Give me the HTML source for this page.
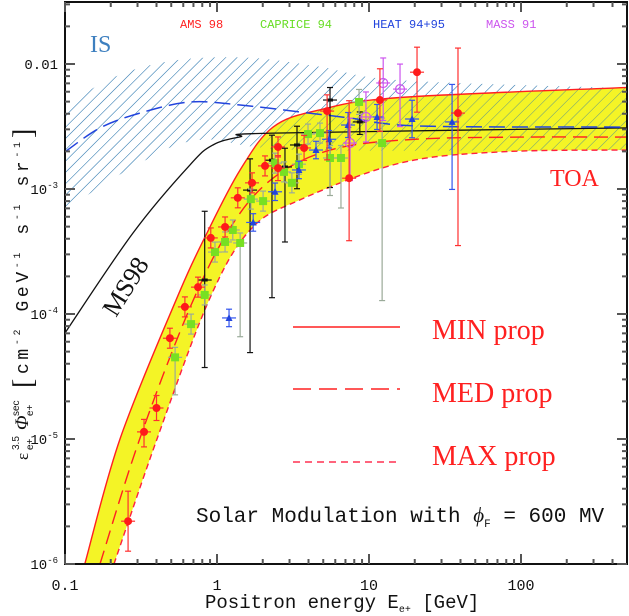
<!DOCTYPE html>
<html><head><meta charset="utf-8"><style>
body{margin:0;background:#fff;}
svg{display:block;}
</style></head><body>
<svg id="chart" width="629" height="616" viewBox="0 0 629 616" xmlns="http://www.w3.org/2000/svg" font-family="Liberation Serif, serif">
<defs>
<clipPath id="plotclip"><rect x="65" y="2" width="563" height="562"/></clipPath>
<pattern id="hatch" patternUnits="userSpaceOnUse" width="8" height="8" patternTransform="rotate(45)">
<line x1="0" y1="0" x2="0" y2="8" stroke="#3d82b5" stroke-width="1"/>
</pattern>
</defs>
<g id="plot" clip-path="url(#plotclip)"></g>
<g id="axes"></g>
<g id="labels">
<text x="180" y="28" font-size="12" fill="#ff2020" font-family="Liberation Mono, monospace">AMS 98</text>
<text x="260" y="28" font-size="12" fill="#66dd22" font-family="Liberation Mono, monospace">CAPRICE 94</text>
<text x="373" y="28" font-size="12" fill="#2244dd" font-family="Liberation Mono, monospace">HEAT 94+95</text>
<text x="486" y="28" font-size="12" fill="#cc55ee" font-family="Liberation Mono, monospace">MASS 91</text>
<text x="90" y="52" font-size="24" fill="#3d7fbf">IS</text>
<text x="550" y="186" font-size="24" fill="#ff2020">TOA</text>
<text x="0" y="0" font-size="26" fill="#111" transform="translate(116,318) rotate(-58)">MS98</text>
<line x1="293" y1="327" x2="400" y2="327" stroke="#ff2020" stroke-width="1.6"/>
<line x1="293" y1="389" x2="400" y2="389" stroke="#ff2020" stroke-width="1.6" stroke-dasharray="18,8"/>
<line x1="293" y1="462" x2="398" y2="462" stroke="#ff3050" stroke-width="1.6" stroke-dasharray="7,5"/>
<text x="432" y="339" font-size="28" fill="#ff2020">MIN prop</text>
<text x="432" y="402" font-size="28" fill="#ff2020">MED prop</text>
<text x="432" y="465" font-size="28" fill="#ff2020">MAX prop</text>
<text x="196" y="522" font-size="21" fill="#111" font-family="Liberation Mono, monospace">Solar Modulation with <tspan font-family="Liberation Serif, serif" font-style="italic">ϕ</tspan><tspan font-size="11" baseline-shift="-5">F</tspan> = 600 MV</text>
<text x="205" y="608" font-size="19" fill="#111" font-family="Liberation Mono, monospace">Positron energy E<tspan font-size="10" baseline-shift="-4">e+</tspan>  [GeV]</text>
<g transform="translate(28,460) rotate(-90)" fill="#111">
<text x="0" y="0" font-size="17">ε</text>
<text x="10" y="-9" font-size="10" font-family="Liberation Sans, sans-serif">3.5</text>
<text x="10" y="5" font-size="10" font-family="Liberation Sans, sans-serif">e+</text>
<text x="30" y="0" font-size="19" font-style="italic">Φ</text>
<text x="44" y="-9" font-size="10" font-family="Liberation Sans, sans-serif">sec</text>
<text x="44" y="5" font-size="10" font-family="Liberation Sans, sans-serif">e+</text>
<text x="72" y="4" font-size="28">[</text>
<text x="86" y="0" font-size="18" font-family="Liberation Mono, monospace" textLength="232" lengthAdjust="spacing">cm<tspan font-size="10" baseline-shift="8">-2</tspan> GeV<tspan font-size="10" baseline-shift="8">-1</tspan> s<tspan font-size="10" baseline-shift="8">-1</tspan> sr<tspan font-size="10" baseline-shift="8">-1</tspan></text>
<text x="322" y="4" font-size="28">]</text>
</g>
</g>
</svg>
<script>
// ---- data ----
const xTicks = [0.1, 1, 10, 100];
const xTickLabels = ["0.1", "1", "10", "100"];
const yTicks = [1e-6, 1e-5, 1e-4, 1e-3, 1e-2];
const yTickExp = ["-6", "-5", "-4", "-3", ""];

const bandUpperE = [0.135, 0.23, 0.537, 0.859, 1.42, 2.34, 4.76, 16, 513];
const bandUpperV = [1e-6, 1e-5, 1.29e-4, 4.45e-4, 1.42e-3, 3.13e-3, 4.3e-3, 5.4e-3, 6.5e-3];
const bandLowerE = [0.21, 0.403, 0.886, 1.65, 3.52, 16, 72.8, 513];
const bandLowerV = [1e-6, 1e-5, 1.29e-4, 4.7e-4, 8.2e-4, 1.61e-3, 1.98e-3, 2.05e-3];
const medE = [0.17, 0.31, 0.68, 1.3, 2.5, 6, 20, 100, 513];
const medV = [1e-6, 1e-5, 1.2e-4, 5.5e-4, 1.3e-3, 2.1e-3, 2.5e-3, 2.6e-3, 2.6e-3];

const ms98E = [0.1, 0.28, 0.664, 0.94, 1.42, 2.34, 513];
const ms98V = [7.05e-5, 4.45e-4, 1.56e-3, 2.25e-3, 2.61e-3, 2.8e-3, 3.08e-3];
const isE = [0.1, 0.17, 0.311, 0.664, 1.42, 3.52, 7.5, 21.7, 513];
const isV = [1.98e-3, 3.08e-3, 4.05e-3, 4.97e-3, 4.7e-3, 4.13e-3, 3.7e-3, 3.19e-3, 3.13e-3];
const hatchUpE = [0.1, 0.23, 0.57, 1.65, 4.76, 16, 513];
const hatchUpV = [4.7e-3, 8.2e-3, 1.08e-2, 1.12e-2, 9.5e-3, 7.4e-3, 6.4e-3];
const hatchLoE = [0.1, 0.28, 0.77, 3.52, 513];
const hatchLoV = [6.8e-4, 1.5e-3, 2.47e-3, 2.05e-3, 2.05e-3];

const amsE = [0.26, 0.331, 0.40, 0.49, 0.615, 0.75, 0.91, 1.13, 1.37, 1.70, 2.07, 2.52, 2.52, 3.74, 5.3, 7.4, 11.8, 20.7, 38.5];
const amsV = [2.2e-6, 1.14e-5, 1.77e-5, 6.4e-5, 1.14e-4, 1.64e-4, 4.06e-4, 4.97e-4, 8.5e-4, 1.12e-3, 1.53e-3, 2.17e-3, 1.47e-3, 2.13e-3, 4.2e-3, 1.22e-3, 5.15e-3, 8.6e-3, 4.05e-3];
const amsUp = [0.24, 0.1, 0.1, 0.08, 0.08, 0.08, 0.08, 0.08, 0.08, 0.08, 0.08, 0.08, 0.1, 0.1, 0.13, 0.62, 0.25, 0.2, 0.52];
const amsDn = [0.24, 0.12, 0.1, 0.08, 0.08, 0.08, 0.08, 0.08, 0.08, 0.08, 0.08, 0.08, 0.1, 0.1, 0.39, 0.5, 0.25, 0.32, 1.06];

const capE = [0.53, 0.675, 0.83, 0.97, 1.13, 1.27, 1.42, 1.67, 2.01, 2.41, 2.76, 3.11, 3.46, 3.97, 4.76, 5.54, 6.54, 8.6, 12.2];
const capV = [4.5e-5, 8.3e-5, 1.42e-4, 3.13e-4, 3.77e-4, 4.7e-4, 3.7e-4, 8.3e-4, 8.0e-4, 1.61e-3, 1.37e-3, 1.12e-3, 1.58e-3, 2.75e-3, 2.8e-3, 1.77e-3, 1.77e-3, 4.97e-3, 2.33e-3];
const capUp = [0.08, 0.08, 0.08, 0.08, 0.08, 0.08, 0.08, 0.08, 0.08, 0.08, 0.08, 0.08, 0.08, 0.08, 0.08, 0.1, 0.1, 0.1, 0.2];
const capDn = [0.3, 0.08, 0.08, 0.08, 0.08, 0.08, 0.75, 0.08, 0.08, 0.08, 0.08, 0.08, 0.08, 0.08, 0.08, 0.3, 0.4, 0.1, 1.26];

const heatE = [1.20, 1.73, 2.41, 3.46, 4.48, 5.46, 7.28, 11.3, 19.2, 35.2];
const heatV = [9.3e-5, 5.4e-4, 9.5e-4, 1.42e-3, 2.05e-3, 2.5e-3, 3.25e-3, 3.77e-3, 3.63e-3, 3.44e-3];
const heatUp = [0.07, 0.07, 0.07, 0.07, 0.07, 0.07, 0.1, 0.1, 0.15, 0.3];
const heatDn = [0.07, 0.07, 0.07, 0.07, 0.07, 0.07, 0.1, 0.1, 0.15, 0.54];

const massE = [7.5, 9.55, 12.4, 16.0];
const massV = [2.33e-3, 3.77e-3, 7.05e-3, 6.3e-3];
const massUp = [0.2, 0.2, 0.2, 0.2];
const massDn = [0.3, 0.2, 0.3, 0.3];

const otherE = [0.83, 1.65, 2.30, 2.80, 3.36, 5.54, 8.7];
const otherV = [1.87e-4, 9.8e-4, 1.7e-3, 1.5e-3, 2.25e-3, 5.15e-3, 3.44e-3];
const otherUp = [0.55, 0.25, 0.2, 0.15, 0.15, 0.1, 0.08];
const otherDn = [0.7, 1.3, 1.1, 0.6, 0.35, 0.7, 0.1];

// ---- scales ----
const X0 = 65, DEC_X = 152, Y0 = 564, DEC_Y = 125;
function sx(e){ return X0 + DEC_X * (Math.log10(e) + 1); }
function sy(v){ return Y0 - DEC_Y * (Math.log10(v) + 6); }
const NS = "http://www.w3.org/2000/svg";
const plot = document.getElementById('plot');
const axes = document.getElementById('axes');
function mk(tag, attrs, parent){
  const el = document.createElementNS(NS, tag);
  for (const k in attrs) el.setAttribute(k, attrs[k]);
  parent.appendChild(el);
  return el;
}
function pts(E, V){ return E.map((e,i)=>[sx(e), sy(V[i])]); }
function smooth(p){
  let d = "M" + p[0][0].toFixed(1) + "," + p[0][1].toFixed(1);
  for (let i=0;i<p.length-1;i++){
    const p0=p[Math.max(i-1,0)], p1=p[i], p2=p[i+1], p3=p[Math.min(i+2,p.length-1)];
    const c1=[p1[0]+(p2[0]-p0[0])/6, p1[1]+(p2[1]-p0[1])/6];
    const c2=[p2[0]-(p3[0]-p1[0])/6, p2[1]-(p3[1]-p1[1])/6];
    d += "C"+c1[0].toFixed(1)+","+c1[1].toFixed(1)+" "+c2[0].toFixed(1)+","+c2[1].toFixed(1)+" "+p2[0].toFixed(1)+","+p2[1].toFixed(1);
  }
  return d;
}
function revPath(p){ return smooth(p.slice().reverse()).replace(/^M/, "L"); }

const hu = pts(hatchUpE, hatchUpV), hl = pts(hatchLoE, hatchLoV);
const hatchEl = mk('path', {d: smooth(hu) + revPath(hl) + "Z", fill: "url(#hatch)", stroke: "none"}, plot);



const bu = pts(bandUpperE, bandUpperV), bl = pts(bandLowerE, bandLowerV);
const bandEl = mk('path', {d: smooth(bu) + revPath(bl) + "Z", fill: "#f2f200", "fill-opacity": "0.85", stroke: "none"}, plot);


const hatch2 = mk('path', {d: smooth(hu) + revPath(hl) + "Z", fill: "url(#hatch)", stroke: "none", opacity: "0.7"}, plot);



const minC = mk('path', {d: smooth(bu), fill: "none", stroke: "#ff2020", "stroke-width": "1.4"}, plot);


const medC = mk('path', {d: smooth(pts(medE, medV)), fill: "none", stroke: "#ff2020", "stroke-width": "1.4", "stroke-dasharray": "14,7"}, plot);


const maxC = mk('path', {d: smooth(bl), fill: "none", stroke: "#ff2040", "stroke-width": "1.4", "stroke-dasharray": "6,4"}, plot);


const msC = mk('path', {d: smooth(pts(ms98E, ms98V)), fill: "none", stroke: "#111", "stroke-width": "1.3"}, plot);


const isC = mk('path', {d: smooth(pts(isE, isV)), fill: "none", stroke: "#2244dd", "stroke-width": "1.5", "stroke-dasharray": "16,7"}, plot);



function series(E, V, up, dn, color, barColor, marker, name){
  const g = mk('g', {}, plot);
  
  
  E.forEach((e,i)=>{
    const x = sx(e), y = sy(V[i]);
    const yt = y - up[i]*DEC_Y, yb = y + dn[i]*DEC_Y;
    mk('line', {x1:x, y1:yt, x2:x, y2:yb, stroke:barColor, "stroke-width":1.2}, g);
    mk('line', {x1:x-3, y1:yt, x2:x+3, y2:yt, stroke:barColor, "stroke-width":1.2}, g);
    mk('line', {x1:x-3, y1:yb, x2:x+3, y2:yb, stroke:barColor, "stroke-width":1.2}, g);
    mk('line', {x1:x-7, y1:y, x2:x+7, y2:y, stroke:barColor, "stroke-width":1.2}, g);
    let m;
    if (marker === 'circle') m = mk('circle', {cx:x, cy:y, r:4, fill:color}, g);
    else if (marker === 'square') m = mk('rect', {x:x-4, y:y-4, width:8, height:8, fill:color}, g);
    else if (marker === 'tri') m = mk('path', {d:`M${x},${y-4}L${x+3.5},${y+3}L${x-3.5},${y+3}Z`, fill:color}, g);
    else if (marker === 'open') m = mk('circle', {cx:x, cy:y, r:4.5, fill:"none", stroke:color, "stroke-width":1.2}, g);
    else m = mk('rect', {x:x-3, y:y-1.5, width:6, height:3, fill:color}, g);
    
    
  });
}
series(otherE, otherV, otherUp, otherDn, "#111", "#111", "dash", "other");
series(capE, capV, capUp, capDn, "#77e022", "#9aaa99", "square", "caprice94");
series(heatE, heatV, heatUp, heatDn, "#2244dd", "#3355ee", "tri", "heat");
series(massE, massV, massUp, massDn, "#cc55ee", "#cc55ee", "open", "mass91");
series(amsE, amsV, amsUp, amsDn, "#ff1a1a", "#ff3030", "circle", "ams98");

const frame = mk('rect', {x:65, y:2, width:562, height:562, fill:"none", stroke:"#111", "stroke-width":2}, axes);


for (let d=-1; d<=2; d++){
  for (let m=1; m<=9; m++){
    const e = m*Math.pow(10,d);
    const x = sx(e);
    if (x > 627) continue;
    const L = m===1 ? 10 : 5;
    mk('line', {x1:x, y1:564, x2:x, y2:564-L, stroke:"#555", "stroke-width":2}, axes);
    mk('line', {x1:x, y1:2, x2:x, y2:2+L, stroke:"#555", "stroke-width":2}, axes);
  }
}
for (let d=-6; d<=-2; d++){
  for (let m=1; m<=9; m++){
    const v = m*Math.pow(10,d);
    const y = sy(v);
    if (y < 2) continue;
    const L = m===1 ? 10 : 5;
    mk('line', {x1:65, y1:y, x2:65+L, y2:y, stroke:"#555", "stroke-width":2}, axes);
    mk('line', {x1:627, y1:y, x2:627-L, y2:y, stroke:"#555", "stroke-width":2}, axes);
  }
}
xTicks.forEach((t,i)=>{
  const tx = mk('text', {x:sx(t), y:590, "font-size":15, "text-anchor":"middle", fill:"#111", "font-family":"Liberation Mono, monospace"}, axes);
  tx.textContent = xTickLabels[i];
  
  
});
yTicks.forEach((t,i)=>{
  const ty = mk('text', {x:58, y:sy(t)+5, "font-size":14, "text-anchor":"end", fill:"#111", "font-family":"Liberation Mono, monospace"}, axes);
  if (yTickExp[i] === "") ty.textContent = "0.01";
  else {
    ty.textContent = "10";
    const s = mk('tspan', {"font-size":9, "baseline-shift":"6"}, ty);
    s.textContent = yTickExp[i];
  }
  
  
});
</script>
</body></html>
